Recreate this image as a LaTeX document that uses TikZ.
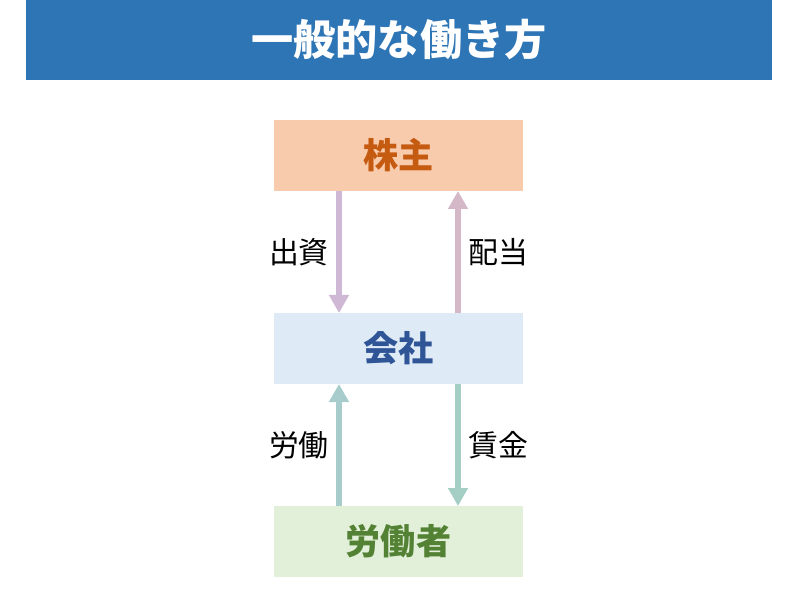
\documentclass[tikz,border=0pt]{standalone}
\usepackage{fontspec}
\setmainfont{Noto Sans CJK JP}
\usetikzlibrary{positioning, arrows.meta, calc}
\definecolor{titleblue}{HTML}{2E75B6}
\begin{document}
\begin{tikzpicture}[x=0.02cm, y=0.02cm,
        party/.style={minimum width=249*0.02cm, minimum height=71*0.02cm, inner sep=0pt, font=\fontsize{20pt}{24pt}\selectfont\bfseries},
        flow/.style={line width=6*0.02cm, -{Triangle[length=18*0.02cm, width=19*0.02cm]}},
        lbl/.style={font=\fontsize{17pt}{20pt}\selectfont}
    ]
        \useasboundingbox (0,0) rectangle (800,605);
        % Title bar
        \node[fill=titleblue, minimum width=746*0.02cm, minimum height=80*0.02cm, inner sep=0pt,
              text=white, font=\fontsize{24pt}{28pt}\selectfont\bfseries] (title) at (399,565) {一般的な働き方};
        % Parties
        \node[party, fill={rgb,255:red,248;green,203;blue,173}, text={rgb,255:red,197;green,90;blue,17}] (owner) at (398.5,449.5) {株主};
        \node[party, fill={rgb,255:red,222;green,235;blue,247}, text={rgb,255:red,47;green,85;blue,151}] (firm) at (398.5,256.5) {会社};
        \node[party, fill={rgb,255:red,226;green,240;blue,217}, text={rgb,255:red,84;green,130;blue,53}] (staff) at (398.5,63.5) {労働者};
        % Flows
        \coordinate (ownerL) at (339,414);
        \coordinate (ownerR) at (458,414);
        \coordinate (firmTL) at (339,292);
        \coordinate (firmTR) at (458,292);
        \coordinate (firmBL) at (339,221);
        \coordinate (firmBR) at (458,221);
        \coordinate (staffL) at (339,99);
        \coordinate (staffR) at (458,99);
        \draw[flow, color={rgb,255:red,206;green,184;blue,214}] (ownerL) -- (firmTL);
        \draw[flow, color={rgb,255:red,212;green,184;blue,200}] (firmTR) -- (ownerR);
        \draw[flow, color={rgb,255:red,168;green,204;blue,204}] (staffL) -- (firmBL);
        \draw[flow, color={rgb,255:red,164;green,206;blue,196}] (firmBR) -- (staffR);
        \node[lbl, left=4*0.02cm of $(ownerL)!0.5!(firmTL)$] (invest) {出資};
        \node[lbl, right=4*0.02cm of $(ownerR)!0.5!(firmTR)$] (divid) {配当};
        \node[lbl, left=4*0.02cm of $(staffL)!0.5!(firmBL)$] (labor) {労働};
        \node[lbl, right=4*0.02cm of $(staffR)!0.5!(firmBR)$] (wage) {賃金};
    \end{tikzpicture}
\end{document}
